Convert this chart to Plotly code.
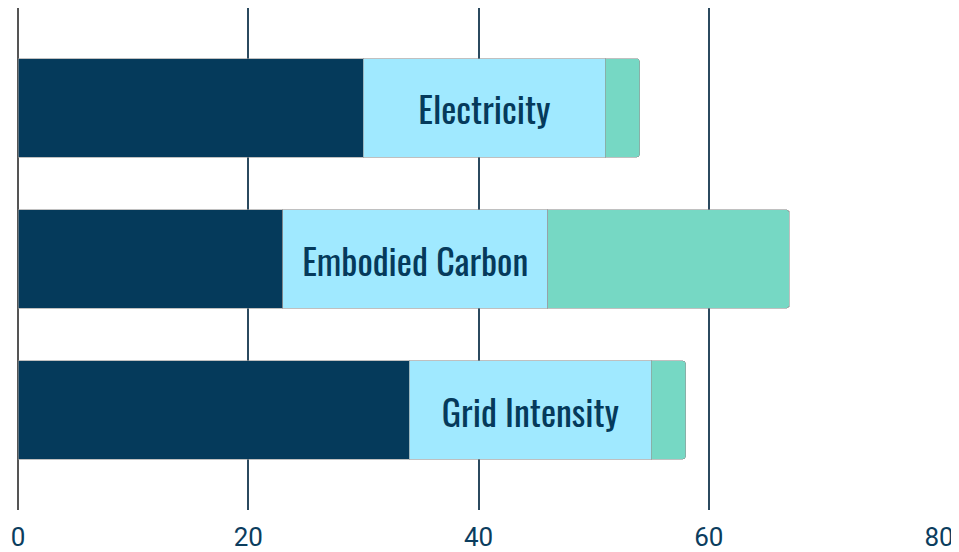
import plotly.graph_objects as go

categories = ["Electricity", "Embodied Carbon", "Grid Intensity"]
seg1 = [30, 23, 34]
seg2 = [21, 23, 21]
seg3 = [3, 21, 3]
tick_vals = [0, 20, 40, 60, 80]

colors = ["#053A5B", "#A0E9FF", "#76D8C4"]
line = dict(color="rgba(150,150,150,0.6)", width=1)

fig = go.Figure()
fig.add_trace(go.Bar(y=categories, x=seg1, orientation="h",
                     marker=dict(color=colors[0], line=line), hoverinfo="skip"))
fig.add_trace(go.Bar(y=categories, x=seg2, orientation="h",
                     marker=dict(color=colors[1], line=line),
                     text=categories, textposition="inside",
                     insidetextanchor="middle",
                     textfont=dict(family="Oswald, DejaVu Sans Condensed, Liberation Sans Narrow, sans-serif",
                                   size=36, color="#053A5B", weight=400),
                     hoverinfo="skip"))
fig.add_trace(go.Bar(y=categories, x=seg3, orientation="h",
                     marker=dict(color=colors[2], line=line), hoverinfo="skip"))

fig.update_layout(
    barmode="stack",
    bargap=0.35,
    barcornerradius=3,
    width=951, height=544,
    margin=dict(l=10, r=20, t=0, b=42),
    paper_bgcolor="white", plot_bgcolor="white",
    showlegend=False,
    font=dict(family="Roboto, sans-serif"),
    xaxis=dict(range=[0, 80], tickvals=tick_vals, showgrid=True,
               gridcolor="#2B4A5F", gridwidth=1.5,
               zeroline=True, zerolinecolor="#555555", zerolinewidth=1.5,
               showline=False, ticks="", ticklabelstandoff=9,
               tickfont=dict(family="Roboto, sans-serif", size=26, color="#0B3D5E")),
    yaxis=dict(categoryorder="array", categoryarray=categories,
               range=[2.662, -0.662], showticklabels=False, showgrid=False,
               zeroline=False, ticks=""),
)

fig.write_html("out.html", config={"displayModeBar": False},
               post_script="document.documentElement.style.overflow='hidden';")
